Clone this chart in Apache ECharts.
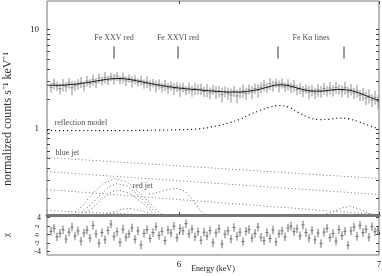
<!DOCTYPE html>
<html><head><meta charset="utf-8">
<script src="https://cdn.jsdelivr.net/npm/echarts@6/dist/echarts.min.js"></script>
<style>html,body{margin:0;padding:0;background:#fff}#c{width:382px;height:276px}</style>
</head><body><div id="c"></div>
<script>
// ---------- data ----------
const energy = [5.36,5.375,5.39,5.405,5.42,5.435,5.45,5.465,5.48,5.495,
5.51,5.525,5.54,5.555,5.57,5.585,5.6,5.615,5.63,5.645,
5.66,5.675,5.69,5.705,5.72,5.735,5.75,5.765,5.78,5.795,
5.81,5.825,5.84,5.855,5.87,5.885,5.9,5.915,5.93,5.945,
5.96,5.975,5.99,6.005,6.02,6.035,6.05,6.065,6.08,6.095,
6.11,6.125,6.14,6.155,6.17,6.185,6.2,6.215,6.23,6.245,
6.26,6.275,6.29,6.305,6.32,6.335,6.35,6.365,6.38,6.395,
6.41,6.425,6.44,6.455,6.47,6.485,6.5,6.515,6.53,6.545,
6.56,6.575,6.59,6.605,6.62,6.635,6.65,6.665,6.68,6.695,
6.71,6.725,6.74,6.755,6.77,6.785,6.8,6.815,6.83,6.845,
6.86,6.875,6.89,6.905,6.92,6.935,6.95,6.965,6.98,6.995];
const counts = [2.62,2.85,2.70,2.55,2.78,2.66,2.90,2.60,2.72,2.83,
2.95,2.70,3.05,2.88,3.12,2.92,3.25,3.05,3.30,3.10,
3.35,3.18,3.40,3.12,3.28,3.05,3.22,3.00,3.15,2.95,
3.08,2.85,2.98,2.75,2.90,2.70,2.82,2.62,2.76,2.58,
2.72,2.55,2.66,2.48,2.62,2.45,2.58,2.42,2.55,2.50,
2.52,2.38,2.45,2.30,2.48,2.35,2.40,2.22,2.38,2.28,
2.20,2.40,2.15,2.32,2.42,2.28,2.50,2.35,2.55,2.45,
2.62,2.75,2.60,2.85,2.72,2.90,2.70,2.88,2.65,2.80,
2.60,2.72,2.48,2.58,2.40,2.52,2.35,2.45,2.30,2.48,
2.38,2.55,2.40,2.58,2.45,2.62,2.50,2.42,2.60,2.35,
2.50,2.30,2.42,2.18,2.25,2.05,2.15,1.95,2.08,1.88];
const countErr = [0.30,0.36,0.28,0.33,0.40,0.30,0.35,0.42,0.29,0.34,
0.38,0.31,0.36,0.28,0.41,0.33,0.37,0.30,0.44,0.35,
0.32,0.39,0.36,0.30,0.42,0.34,0.31,0.38,0.33,0.29,
0.36,0.31,0.40,0.34,0.28,0.37,0.33,0.30,0.36,0.32,
0.29,0.35,0.31,0.38,0.30,0.27,0.34,0.31,0.36,0.30,
0.33,0.28,0.37,0.31,0.29,0.35,0.32,0.38,0.30,0.33,
0.36,0.30,0.34,0.29,0.37,0.32,0.30,0.35,0.31,0.38,
0.33,0.36,0.30,0.40,0.34,0.31,0.37,0.33,0.29,0.36,
0.32,0.38,0.30,0.35,0.31,0.28,0.36,0.33,0.30,0.37,
0.32,0.35,0.29,0.38,0.33,0.36,0.30,0.34,0.39,0.31,
0.33,0.30,0.36,0.28,0.34,0.31,0.35,0.29,0.33,0.30];
const resid = [0.8,1.5,-0.5,0.3,1.2,-1.0,0.6,1.8,-0.3,0.9,
-1.5,0.4,1.1,-0.8,2.2,0.2,-2.0,0.5,-1.2,1.0,
2.5,-0.4,0.7,-1.8,1.3,-0.6,0.2,1.6,-1.1,0.9,
-2.4,0.3,1.2,-0.9,0.5,1.9,-0.2,0.8,-1.4,1.1,
0.4,2.0,-0.7,1.5,0.9,2.6,0.2,1.3,-0.5,0.7,
-1.3,0.6,-0.3,1.0,-1.9,0.4,1.4,-2.2,0.1,0.9,
-1.0,1.7,-0.4,0.6,-1.6,0.8,1.2,-0.8,0.3,1.8,
-0.6,-1.4,0.5,-0.9,1.1,-1.7,0.2,0.9,-0.5,1.6,
2.0,0.7,1.4,-0.3,2.3,0.5,-0.8,1.0,-1.2,0.4,
-2.1,0.6,1.5,-0.7,0.3,-1.5,1.2,-0.2,0.8,-2.5,
0.9,1.8,-0.4,2.2,0.5,1.3,-0.6,1.9,0.7,1.1];
const residErr = 1;

const modelE = [5.34,5.40,5.45,5.50,5.55,5.60,5.65,5.70,5.75,5.80,5.85,5.90,5.95,6.00,6.05,6.10,6.15,6.20,6.25,6.30,6.35,6.40,6.45,6.50,6.55,6.60,6.65,6.70,6.75,6.80,6.85,6.90,6.95,7.00];
const modelV = [2.75,2.75,2.79,2.85,2.95,3.07,3.18,3.22,3.15,3.02,2.88,2.76,2.66,2.58,2.52,2.47,2.42,2.38,2.35,2.35,2.40,2.50,2.66,2.78,2.72,2.55,2.42,2.40,2.45,2.50,2.45,2.30,2.10,1.92];

const reflE = [5.34,5.5,5.7,5.9,6.0,6.1,6.2,6.25,6.3,6.35,6.4,6.45,6.5,6.55,6.6,6.65,6.7,6.75,6.8,6.85,6.9,6.95,7.0];
const reflV = [0.96,0.96,0.96,0.97,0.98,1.0,1.08,1.15,1.24,1.38,1.52,1.65,1.72,1.65,1.45,1.30,1.24,1.25,1.28,1.26,1.18,1.08,1.0];

const blueJet1 = [[5.34,0.513],[7.0,0.315]];
const blueJet2 = [[5.34,0.37],[7.0,0.217]];
const blueJet3 = [[5.34,0.244],[7.0,0.136]];
const blueJet4 = [[5.34,0.150],[5.86,0.135]];

const redJet1 = [[5.47,0.135],[5.52,0.17],[5.57,0.225],[5.62,0.28],[5.68,0.315],[5.74,0.29],[5.79,0.24],[5.84,0.19],[5.89,0.15],[5.92,0.135]];
const redJet2 = [[5.5,0.135],[5.55,0.165],[5.6,0.21],[5.65,0.26],[5.69,0.28],[5.74,0.265],[5.79,0.22],[5.84,0.175],[5.88,0.145],[5.9,0.135]];
const redJet3 = [[5.52,0.135],[5.57,0.16],[5.62,0.2],[5.67,0.235],[5.70,0.24],[5.75,0.225],[5.8,0.19],[5.85,0.155],[5.88,0.135]];
const redJet4 = [[5.62,0.135],[5.67,0.145],[5.72,0.155],[5.76,0.157],[5.8,0.15],[5.85,0.14],[5.88,0.135]];
const redJet5 = [[5.85,0.22],[5.9,0.23],[5.95,0.245],[5.99,0.25],[6.03,0.235],[6.07,0.19],[6.1,0.155],[6.13,0.135]];
const redJet6 = [[6.72,0.135],[6.77,0.145],[6.82,0.16],[6.86,0.165],[6.9,0.155],[6.95,0.14],[6.98,0.135]];

const lineMarkE = [5.675,5.995,6.495,6.825];
const lineMarkLo = 5.13, lineMarkHi = 6.78;
const annotations = [
  ['Fe XXV red',5.675,8.36,'center'],
  ['Fe XXVI red',5.995,8.36,'center'],
  ['Fe K\u03b1 lines',6.66,8.36,'center'],
  ['reflection model',5.375,1.16,'left'],
  ['blue jet',5.38,0.576,'left'],
  ['red jet',5.765,0.268,'left']
];
const xTicks = [6,7];
const yMajor = [1,10];
const yMinor = [0.2,0.3,0.4,0.5,0.6,0.7,0.8,0.9,1,2,3,4,5,6,7,8,9,10];
const yTitle = 'normalized counts s\u207b\u00b9 keV\u207b\u00b9';
const xTitle = 'Energy (keV)';

// ---------- chart ----------
const FONT = 'Liberation Serif';
const frame = '#777';
function errBar(color, hw){
  return function(params, api){
    const x = api.value(0), y = api.value(1), e = api.value(2);
    const lo = api.value(3) ? y - e : Math.max(y - e, 1e-3);
    const p1 = api.coord([x, y + e]), p2 = api.coord([x, lo]);
    const l = api.coord([x - hw, y]), r = api.coord([x + hw, y]);
    return {type:'group', children:[
      {type:'line', shape:{x1:p1[0],y1:p1[1],x2:p2[0],y2:p2[1]}, style:{stroke:color,lineWidth:1}},
      {type:'line', shape:{x1:l[0],y1:l[1],x2:r[0],y2:r[1]}, style:{stroke:color,lineWidth:1}}
    ]};
  };
}
function markRender(params, api){
  const x = api.value(0);
  const p1 = api.coord([x, api.value(1)]), p2 = api.coord([x, api.value(2)]);
  return {type:'line', shape:{x1:p1[0],y1:p1[1],x2:p2[0],y2:p2[1]}, style:{stroke:'#333',lineWidth:1}};
}
const dotted = (c, w) => ({color:c, width:w||1, type:[1,2.5]});
function comp(data, c){
  return {type:'line', xAxisIndex:0, yAxisIndex:0, data:data, showSymbol:false, symbol:'none',
    lineStyle:dotted(c), silent:true, animation:false, clip:true, z:3};
}
const chart = echarts.init(document.getElementById('c'), null, {renderer:'canvas'});
const axisTxt = {fontFamily:FONT, fontSize:9, color:'#222'};
const XMIN = 5.34, XMAX = 7.0;
chart.setOption({
  animation:false,
  textStyle:{fontFamily:FONT},
  graphic:[
    {type:'text', x:8, y:119, rotation:Math.PI/2,
      style:{text:yTitle, font:'12px "Liberation Serif"', fill:'#333', align:'center', verticalAlign:'middle'}},
    {type:'text', x:213, y:269,
      style:{text:xTitle, font:'8px "Liberation Serif"', fill:'#222', align:'center', verticalAlign:'middle'}}
  ],
  grid:[
    {left:47, right:3, top:1, height:214, show:true, borderColor:frame, borderWidth:1, containLabel:false, outerBoundsMode:'none'},
    {left:47, right:3, top:215, height:40, show:true, borderColor:frame, borderWidth:1, containLabel:false, outerBoundsMode:'none'}
  ],
  xAxis:[
    {gridIndex:0, type:'value', min:XMIN, max:XMAX, position:'bottom',
      axisLine:{show:true, onZero:false, lineStyle:{color:frame, width:3}},
      axisTick:{show:true, inside:true, length:3, customValues:xTicks, lineStyle:{color:'#444'}},
      axisLabel:{show:false}, splitLine:{show:false}},
    {gridIndex:0, type:'value', min:XMIN, max:XMAX, position:'top',
      axisLine:{show:false},
      axisTick:{show:true, inside:true, length:3, customValues:xTicks, lineStyle:{color:'#444'}},
      axisLabel:{show:false}, splitLine:{show:false}},
    {gridIndex:1, type:'value', min:XMIN, max:XMAX, position:'bottom',
      axisLine:{show:false},
      axisTick:{show:true, inside:true, length:3, customValues:xTicks, lineStyle:{color:'#444'}},
      axisLabel:Object.assign({show:true, customValues:xTicks, margin:5}, axisTxt),
      splitLine:{show:false}}
  ],
  yAxis:[
    {gridIndex:0, type:'log', logBase:10, min:0.135, max:19.5, position:'left',
      axisLine:{show:false},
      axisTick:{show:true, inside:true, length:3, customValues:yMinor, lineStyle:{color:'#444'}},
      axisLabel:Object.assign({show:true, customValues:yMajor, margin:8}, axisTxt),
      splitLine:{show:false}, minorTick:{show:false}},
    {gridIndex:0, type:'log', logBase:10, min:0.135, max:19.5, position:'right',
      axisLine:{show:false},
      axisTick:{show:true, inside:true, length:3, customValues:yMinor, lineStyle:{color:'#444'}},
      axisLabel:{show:false}, splitLine:{show:false}},
    {gridIndex:1, type:'value', min:-4.78, max:4.64, position:'left',
      axisLine:{show:false},
      axisTick:{show:true, inside:true, length:3, customValues:[-4,-2,0,2,4], lineStyle:{color:'#444'}},
      axisLabel:Object.assign({show:true, customValues:[-4,4], margin:6, showMinLabel:true, showMaxLabel:true}, axisTxt, {fontSize:8}),
      splitLine:{show:false},
      name:'\u03c7', nameLocation:'middle', nameGap:36, nameRotate:90,
      nameTextStyle:{fontFamily:FONT, fontSize:9, color:'#222'}},
    {gridIndex:1, type:'value', min:-4.78, max:4.64, position:'left',
      axisLine:{show:false}, axisTick:{show:false},
      axisLabel:Object.assign({show:true, customValues:[-2,0,2], rotate:90, margin:6}, axisTxt, {fontSize:7}),
      splitLine:{show:false}},
    {gridIndex:1, type:'value', min:-4.78, max:4.64, position:'right',
      axisLine:{show:false},
      axisTick:{show:true, inside:true, length:3, customValues:[-4,-2,0,2,4], lineStyle:{color:'#444'}},
      axisLabel:{show:false}, splitLine:{show:false}}
  ],
  series:[
    comp(blueJet1,'#777'), comp(blueJet2,'#777'), comp(blueJet3,'#777'), comp(blueJet4,'#777'),
    comp(redJet1,'#666'), comp(redJet2,'#666'), comp(redJet3,'#666'), comp(redJet4,'#666'),
    comp(redJet5,'#666'), comp(redJet6,'#666'),
    {type:'line', xAxisIndex:0, yAxisIndex:0, data:reflE.map((e,i)=>[e,reflV[i]]), showSymbol:false, symbol:'none',
      smooth:0.4, lineStyle:{color:'#222', width:1.2, type:[1.2,2.8]}, z:3},
    {type:'custom', xAxisIndex:0, yAxisIndex:0, renderItem:errBar('#8c8c8c',0.0075), clip:true, z:4,
      data:energy.map((e,i)=>[e,counts[i],countErr[i],0])},
    {type:'line', xAxisIndex:0, yAxisIndex:0, data:modelE.map((e,i)=>[e,modelV[i]]), showSymbol:false, symbol:'none',
      smooth:0.4, lineStyle:{color:'#111', width:1}, z:5},
    {type:'custom', xAxisIndex:0, yAxisIndex:0, renderItem:markRender, z:5,
      data:lineMarkE.map(e=>[e,lineMarkLo,lineMarkHi])},
    {type:'scatter', xAxisIndex:0, yAxisIndex:0, symbolSize:1, itemStyle:{color:'rgba(0,0,0,0)'}, z:6,
      data:annotations.map(a=>({value:[a[1],a[2]], label:{show:true, formatter:a[0],
        position:a[3]==='center'?'inside':'right', distance:0, align:a[3]==='center'?'center':'left',
        fontFamily:FONT, fontSize:8, color:'#222'}}))},
    {type:'custom', xAxisIndex:2, yAxisIndex:2, renderItem:errBar('#6e6e6e',0.0075), clip:true, z:4,
      data:energy.map((e,i)=>[e,resid[i],residErr,1])}
  ]
});
</script></body></html>
